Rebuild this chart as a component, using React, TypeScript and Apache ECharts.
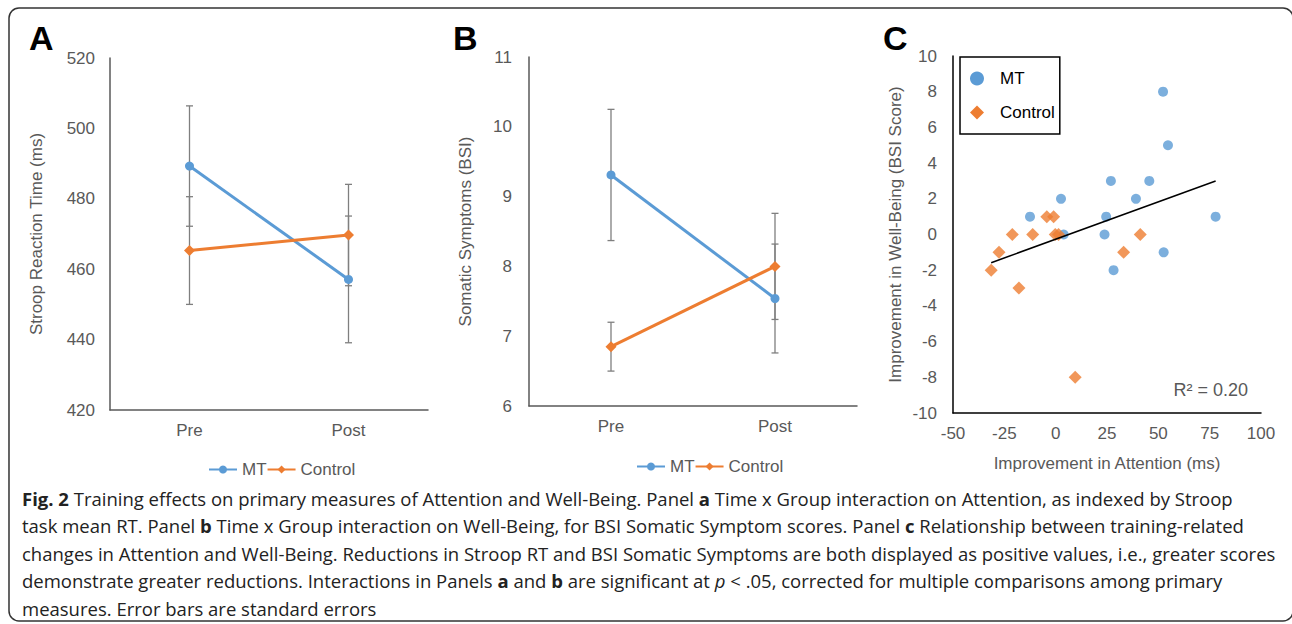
import React, { useEffect, useRef } from "react";
import * as echarts from "echarts";

// ---------- data ----------
const TIMES = ["Pre", "Post"];
const MT_RT = [489.3, 457.1];
const MT_RT_SE = [17.1, 18.0];
const CTRL_RT = [465.3, 469.7];
const CTRL_RT_SE = [15.3, 14.4];

const MT_BSI = [9.31, 7.54];
const MT_BSI_SE = [0.94, 0.78];
const CTRL_BSI = [6.85, 8.0];
const CTRL_BSI_SE = [0.35, 0.76];

const MT_ATT = [52.3, 54.7, 26.9, 45.6, 2.6, 39.1, -12.5, 24.6, 77.9, 3.9, 23.8, 52.6, 28.2];
const MT_WB = [8, 5, 3, 3, 2, 2, 1, 1, 1, 0, 0, -1, -2];
const CTRL_ATT = [-4.3, -1.0, -21.1, -11.2, -0.2, 1.4, 41.2, -27.6, 33.1, -31.4, -17.9, 9.5];
const CTRL_WB = [1, 1, 0, 0, 0, 0, 0, -1, -1, -2, -3, -8];
const TREND_SLOPE = 0.0419;
const TREND_INTERCEPT = -0.264;
const R2_LABEL = "R\u00B2 = 0.20";

const CAPTION_LINES = [
  "{b|Fig. 2} Training effects on primary measures of Attention and Well-Being. Panel {b|a} Time x Group interaction on Attention, as indexed by Stroop",
  "task mean RT. Panel {b|b} Time x Group interaction on Well-Being, for BSI Somatic Symptom scores. Panel {b|c} Relationship between training-related",
  "changes in Attention and Well-Being. Reductions in Stroop RT and BSI Somatic Symptoms are both displayed as positive values, i.e., greater scores",
  "demonstrate greater reductions. Interactions in Panels {b|a} and {b|b} are significant at {i|p} < .05, corrected for multiple comparisons among primary",
  "measures. Error bars are standard errors",
];

// ---------- styles ----------
const BLUE = "#5B9BD5";
const ORANGE = "#ED7D31";
const GRAY = "#595959";
const FONT = "Liberation Sans, Arial, sans-serif";
const CAP_FONT = "Open Sans, sans-serif";
const CAP_SIZE = 18.5;

const errData = (vals: number[], se: number[]) =>
  vals.map((v, i) => [i, v - se[i], v + se[i]]);

const errRender = (_params: any, api: any) => {
  const x = api.value(0);
  const lo = api.coord([x, api.value(1)]);
  const hi = api.coord([x, api.value(2)]);
  const c = 3.5;
  const st = { stroke: "#7f7f7f", lineWidth: 1.3 };
  return {
    type: "group",
    children: [
      { type: "line", shape: { x1: lo[0], y1: lo[1], x2: hi[0], y2: hi[1] }, style: st },
      { type: "line", shape: { x1: lo[0] - c, y1: lo[1], x2: lo[0] + c, y2: lo[1] }, style: st },
      { type: "line", shape: { x1: hi[0] - c, y1: hi[1], x2: hi[0] + c, y2: hi[1] }, style: st },
    ],
  };
};

const catAxis = (gridIndex: number) => ({
  type: "category",
  gridIndex,
  data: TIMES,
  boundaryGap: true,
  axisLine: { lineStyle: { color: GRAY, width: 1.5 } },
  axisTick: { show: false },
  axisLabel: { color: GRAY, fontSize: 17, fontFamily: FONT, margin: 12 },
  splitLine: { show: false },
});

const valAxis = (gridIndex: number, min: number, max: number, interval: number, name: string, nameGap: number, margin: number, color: string) => ({
  type: "value",
  gridIndex,
  min,
  max,
  interval,
  name,
  nameLocation: "middle",
  nameGap,
  nameTextStyle: { color: GRAY, fontSize: 17, fontFamily: FONT },
  axisLine: { show: true, onZero: false, lineStyle: { color, width: 1.5 } },
  axisTick: { show: false },
  axisLabel: { color: GRAY, fontSize: 17, fontFamily: FONT, margin },
  splitLine: { show: false },
});

const lineSeries = (name: string, data: number[], idx: number, color: string, symbol: string, size: number) => ({
  type: "line",
  name,
  xAxisIndex: idx,
  yAxisIndex: idx,
  data,
  symbol,
  symbolSize: size,
  color,
  lineStyle: { color, width: 3 },
  itemStyle: { color },
  z: 3,
});

const lineLegend = (left: number, top: number) => ({
  data: ["MT", "Control"],
  left,
  top,
  itemWidth: 28,
  itemHeight: 10,
  itemGap: 0,
  textStyle: { color: GRAY, fontSize: 17, fontFamily: FONT },
});

export default function App() {
  const ref = useRef<HTMLDivElement>(null);

  useEffect(() => {
    document.body.style.margin = "0";
    if (!ref.current) return;
    const chart = echarts.init(ref.current, undefined, { renderer: "svg" });

    const allX = MT_ATT.concat(CTRL_ATT);
    const xMin = Math.min(...allX);
    const xMax = Math.max(...allX);
    const trend = [
      [xMin, TREND_SLOPE * xMin + TREND_INTERCEPT],
      [xMax, TREND_SLOPE * xMax + TREND_INTERCEPT],
    ];

    const caption = CAPTION_LINES.map((t, i) => ({
      type: "text",
      x: 22,
      y: 498 + i * 27.5,
      style: {
        text: t,
        fill: "#222",
        fontSize: CAP_SIZE,
        fontFamily: CAP_FONT,
        verticalAlign: "middle",
        rich: {
          b: { fontWeight: "bold", fontSize: CAP_SIZE, fontFamily: CAP_FONT, fill: "#222" },
          i: { fontStyle: "italic", fontSize: CAP_SIZE, fontFamily: CAP_FONT, fill: "#222" },
        },
      },
    }));

    const letter = (t: string, x: number) => ({
      type: "text",
      x,
      y: 38,
      style: { text: t, fill: "#000", fontSize: 34, fontWeight: "bold", fontFamily: FONT, verticalAlign: "middle" },
    });

    chart.setOption({
      animation: false,
      backgroundColor: "#fff",
      textStyle: { fontFamily: FONT },
      grid: [
        { left: 110, top: 58, width: 318, height: 352 },
        { left: 529, top: 57, width: 328, height: 349 },
        { left: 953, top: 56, width: 308, height: 357 },
      ],
      xAxis: [
        catAxis(0),
        catAxis(1),
        {
          type: "value",
          gridIndex: 2,
          min: -50,
          max: 100,
          interval: 25,
          name: "Improvement in Attention (ms)",
          nameLocation: "middle",
          nameGap: 42,
          nameTextStyle: { color: GRAY, fontSize: 17, fontFamily: FONT },
          axisLine: { show: true, onZero: false, lineStyle: { color: "#000", width: 1.5 } },
          axisTick: { show: false },
          axisLabel: { color: GRAY, fontSize: 17, fontFamily: FONT, margin: 12 },
          splitLine: { show: false },
        },
      ],
      yAxis: [
        valAxis(0, 420, 520, 20, "Stroop Reaction Time (ms)", 65, 15, GRAY),
        valAxis(1, 6, 11, 1, "Somatic Symptoms (BSI)", 55, 17, GRAY),
        valAxis(2, -10, 10, 2, "Improvement in Well-Being (BSI Score)", 49, 16, "#000"),
      ],
      legend: [
        lineLegend(203, 456),
        lineLegend(631, 453),
        {
          data: [
            { name: "MT", icon: "circle" },
            { name: "Control", icon: "diamond" },
          ],
          orient: "vertical",
          left: 960,
          top: 57,
          itemWidth: 14,
          itemHeight: 14,
          itemGap: 17,
          padding: [13, 5, 13, 10],
          borderColor: "#000",
          borderWidth: 1.5,
          textStyle: { color: "#000", fontSize: 17, fontFamily: FONT, padding: [0, 0, 0, 11] },
        },
      ],
      series: [
        {
          type: "custom",
          xAxisIndex: 0,
          yAxisIndex: 0,
          data: errData(MT_RT, MT_RT_SE).concat(errData(CTRL_RT, CTRL_RT_SE)),
          encode: { x: 0, y: [1, 2] },
          renderItem: errRender,
          silent: true,
          z: 1,
        },
        lineSeries("MT", MT_RT, 0, BLUE, "circle", 9),
        lineSeries("Control", CTRL_RT, 0, ORANGE, "diamond", 11),
        {
          type: "custom",
          xAxisIndex: 1,
          yAxisIndex: 1,
          data: errData(MT_BSI, MT_BSI_SE).concat(errData(CTRL_BSI, CTRL_BSI_SE)),
          encode: { x: 0, y: [1, 2] },
          renderItem: errRender,
          silent: true,
          z: 1,
        },
        lineSeries("MT", MT_BSI, 1, BLUE, "circle", 9),
        lineSeries("Control", CTRL_BSI, 1, ORANGE, "diamond", 11),
        {
          type: "scatter",
          name: "MT",
          xAxisIndex: 2,
          yAxisIndex: 2,
          data: MT_ATT.map((x, i) => [x, MT_WB[i]]),
          symbol: "circle",
          symbolSize: 10,
          itemStyle: { color: BLUE },
          z: 3,
        },
        {
          type: "scatter",
          name: "Control",
          xAxisIndex: 2,
          yAxisIndex: 2,
          data: CTRL_ATT.map((x, i) => [x, CTRL_WB[i]]),
          symbol: "diamond",
          symbolSize: 13,
          itemStyle: { color: ORANGE },
          z: 3,
        },
        {
          type: "line",
          name: "Linear trend",
          xAxisIndex: 2,
          yAxisIndex: 2,
          data: trend,
          symbol: "none",
          lineStyle: { color: "#000", width: 1.5 },
          silent: true,
          z: 4,
        },
      ],
      graphic: [
        {
          type: "rect",
          shape: { x: 9, y: 8, width: 1284, height: 613, r: 10 },
          style: { fill: "none", stroke: "#333", lineWidth: 1.5 },
          silent: true,
        },
        letter("A", 29),
        letter("B", 453),
        letter("C", 883),
        {
          type: "text",
          x: 1248,
          y: 390,
          style: { text: R2_LABEL, fill: GRAY, fontSize: 18, fontFamily: FONT, align: "right", verticalAlign: "middle" },
        },
        ...caption,
      ],
    });

    return () => chart.dispose();
  }, []);

  return <div ref={ref} style={{ width: 1292, height: 624 }} />;
}
